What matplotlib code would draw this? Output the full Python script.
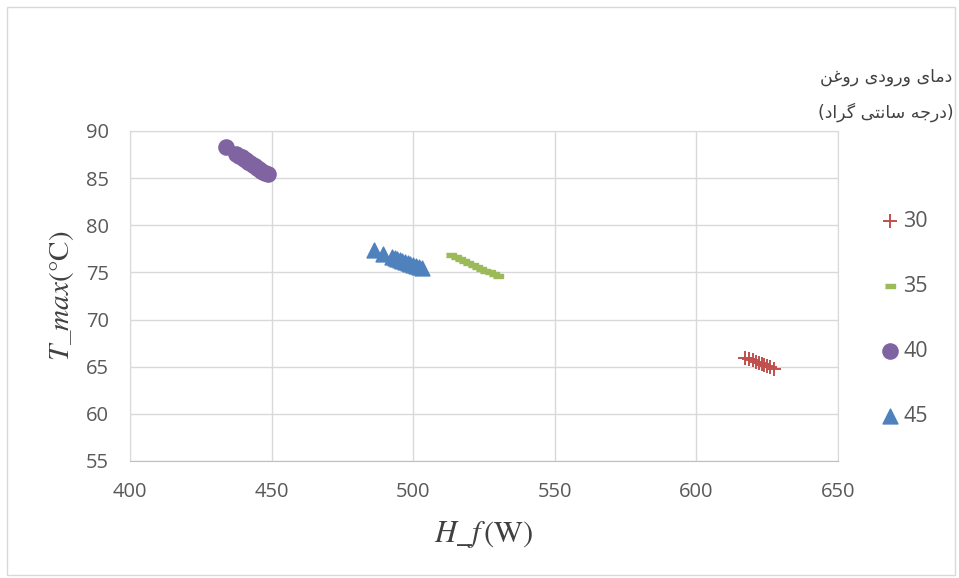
import numpy as np
import matplotlib
matplotlib.use("Agg")
from matplotlib import pyplot as plt
from matplotlib.patches import Rectangle

# data
hf_30 = [617.0, 618.5, 620.0, 621.0, 622.0, 623.0, 624.0, 625.0, 626.0, 627.5]
t_30 = [65.9, 65.8, 65.7, 65.5, 65.4, 65.3, 65.2, 65.1, 65.0, 64.8]

hf_35 = [513.3, 515.0, 516.5, 518.0, 519.5, 521.0, 522.5, 524.0, 525.5, 527.0, 528.5, 530.0]
t_35 = [76.9, 76.6, 76.4, 76.2, 76.0, 75.8, 75.6, 75.4, 75.2, 75.0, 74.8, 74.6]

hf_40 = [434.0, 437.5, 438.5, 439.5, 440.3, 441.0, 441.8, 442.5, 443.3, 444.0, 444.8, 445.5, 446.3, 447.0, 447.8, 448.6]
t_40 = [88.3, 87.6, 87.4, 87.2, 87.0, 86.9, 86.7, 86.6, 86.4, 86.3, 86.1, 86.0, 85.8, 85.7, 85.5, 85.4]

hf_45 = [486.3, 489.2, 492.6, 493.5, 494.4, 495.3, 496.2, 497.1, 498.0, 499.0, 500.0, 501.0, 502.0, 503.0]
t_45 = [77.4, 77.0, 76.6, 76.5, 76.4, 76.3, 76.2, 76.1, 76.0, 75.9, 75.8, 75.7, 75.6, 75.5]

series_labels = ["30", "35", "40", "45"]
legend_title = ["دمای ورودی روغن", "(درجه سانتی گراد)"]

# tiny arabic shaper: matplotlib does no joining / rtl on its own
forms = {
    # isolated, final, initial, medial
    "ا": ("\uFE8D", "\uFE8E", None, None),
    "د": ("\uFEA9", "\uFEAA", None, None),
    "ر": ("\uFEAD", "\uFEAE", None, None),
    "و": ("\uFEED", "\uFEEE", None, None),
    "م": ("\uFEE1", "\uFEE2", "\uFEE3", "\uFEE4"),
    "ی": ("\uFEEF", "\uFEF0", "\uFEF3", "\uFEF4"),
    "غ": ("\uFECD", "\uFECE", "\uFECF", "\uFED0"),
    "ن": ("\uFEE5", "\uFEE6", "\uFEE7", "\uFEE8"),
    "ج": ("\uFE9D", "\uFE9E", "\uFE9F", "\uFEA0"),
    "ه": ("\uFEE9", "\uFEEA", "\uFEEB", "\uFEEC"),
    "س": ("\uFEB1", "\uFEB2", "\uFEB3", "\uFEB4"),
    "ت": ("\uFE95", "\uFE96", "\uFE97", "\uFE98"),
    "گ": ("\uFB92", "\uFB93", "\uFB94", "\uFB95"),
}


def dual(c):
    return c in forms and forms[c][2] is not None


def shape(s):
    out = []
    for i, c in enumerate(s):
        if c not in forms:
            out.append(c)
            continue
        prev = i > 0 and dual(s[i - 1])
        nxt = dual(c) and i + 1 < len(s) and s[i + 1] in forms
        iso, fin, ini, med = forms[c]
        if prev and nxt:
            out.append(med)
        elif prev:
            out.append(fin)
        elif nxt:
            out.append(ini)
        else:
            out.append(iso)
    vis = "".join(out)[::-1]
    return vis.translate(str.maketrans("()", ")("))


plt.rcParams["font.family"] = ["Open Sans", "DejaVu Sans"]
plt.rcParams["mathtext.fontset"] = "stix"

fig = plt.figure(figsize=(9.59, 5.78), dpi=100)
ax = fig.add_axes([130 / 959, 117 / 578, 708 / 959, 330 / 578])

ax.scatter(hf_30, t_30, marker="+", s=90, color="#C0504D", linewidths=1.4, label=series_labels[0], zorder=3)
dash = [(-1, -0.45), (1, -0.45), (1, 0.45), (-1, 0.45)]
ax.scatter(hf_35, t_35, marker=dash, s=55, color="#9BBB59", label=series_labels[1], zorder=3)
ax.scatter(hf_40, t_40, marker="o", s=120, color="#8064A2", label=series_labels[2], zorder=3)
ax.scatter(hf_45, t_45, marker="^", s=115, color="#4F81BD", label=series_labels[3], zorder=3)

ax.set_xlim(400, 650)
ax.set_ylim(55, 90)
ax.set_xticks(np.arange(400, 651, 50))
ax.set_yticks(np.arange(55, 91, 5))
ax.grid(True, color="#D9D9D9", linewidth=1)
ax.set_axisbelow(True)
ax.spines["top"].set_color("#D9D9D9")
ax.spines["right"].set_color("#D9D9D9")
ax.spines["left"].set_color("#D9D9D9")
ax.spines["bottom"].set_color("#BFBFBF")
ax.tick_params(length=0, labelsize=14.5, labelcolor="#595959")
ax.tick_params(axis="x", pad=15)
ax.tick_params(axis="y", pad=15)

ax.set_xlabel(r"$H\_f\,(\mathrm{W})$", fontsize=22, color="#404040", labelpad=12)
ax.set_ylabel(r"$T\_max(°\mathrm{C})$", fontsize=21, color="#404040", labelpad=7)

fig.text(952 / 959, 1 - 77 / 578, shape(legend_title[0]), ha="right", va="center",
         fontsize=12.5, color="#404040", family=["DejaVu Sans"])
fig.text(954 / 959, 1 - 112 / 578, shape(legend_title[1]), ha="right", va="center",
         fontsize=12.5, color="#404040", family=["DejaVu Sans"])

fig.legend(loc="upper left", bbox_to_anchor=(870 / 959, 1 - 202 / 578), frameon=False,
           fontsize=15.5, labelcolor="#595959", labelspacing=2.05, handletextpad=0.05,
           handlelength=1.1, borderaxespad=0, scatterpoints=1)

fig.patches.append(Rectangle((7 / 959, 3 / 578), 948 / 959, 568 / 578, transform=fig.transFigure,
                             fill=False, edgecolor="#D9D9D9", linewidth=1))

fig.savefig("out.png", dpi=100)
